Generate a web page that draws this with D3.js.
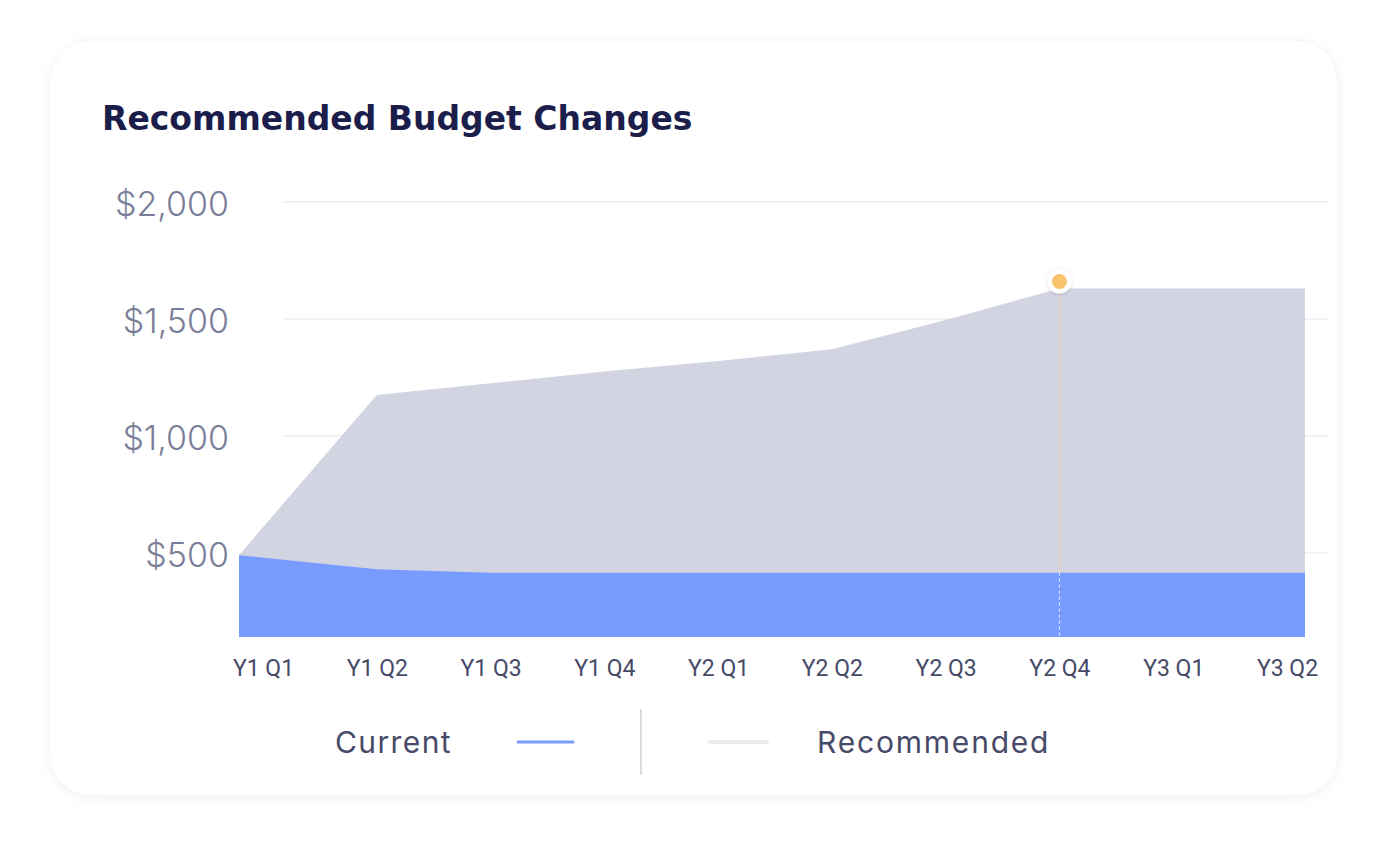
<!DOCTYPE html>
<html>
<head>
<meta charset="utf-8">
<script src="https://cdn.jsdelivr.net/npm/d3@7"></script>
<style>
  html, body { margin: 0; padding: 0; background: #ffffff; }
  svg { display: block; }
</style>
</head>
<body>
<svg id="chart" width="1389" height="856"></svg>
<script>
// ---- data ----
const categories = ["Y1 Q1","Y1 Q2","Y1 Q3","Y1 Q4","Y2 Q1","Y2 Q2","Y2 Q3","Y2 Q4","Y3 Q1","Y3 Q2"];
const currentValues = [490, 430, 415, 415, 415, 415, 415, 415, 415, 415];
const recommendedValues = [490, 1175, 1225, 1275, 1320, 1370, 1495, 1630, 1630, 1630];
const yTickValues = [500, 1000, 1500, 2000];
const yTickLabels = ["$500", "$1,000", "$1,500", "$2,000"];
const highlightCategory = "Y2 Q4";
const title = "Recommended Budget Changes";
const legendLabels = ["Current", "Recommended"];
const yFloor = 140;

// ---- layout ----
const svg = d3.select("#chart");
const plot = { left: 239, right: 1305, top: 202, bottom: 637 };

const defs = svg.append("defs");
const f = defs.append("filter").attr("id", "cardShadow").attr("x", "-10%").attr("y", "-10%").attr("width", "120%").attr("height", "120%");
f.append("feDropShadow").attr("dx", 0).attr("dy", 2).attr("stdDeviation", 6).attr("flood-color", "#1b1d4b").attr("flood-opacity", 0.05);
const f2 = defs.append("filter").attr("id", "dotShadow").attr("x", "-50%").attr("y", "-50%").attr("width", "200%").attr("height", "200%");
f2.append("feDropShadow").attr("dx", 0).attr("dy", 1).attr("stdDeviation", 2).attr("flood-color", "#1b1d4b").attr("flood-opacity", 0.12);

// card
svg.append("rect")
  .attr("x", 50).attr("y", 40).attr("width", 1288).attr("height", 756)
  .attr("rx", 42).attr("ry", 42)
  .attr("fill", "#ffffff")
  .attr("stroke", "#f4f4f7").attr("stroke-width", 1)
  .attr("filter", "url(#cardShadow)");

// title
svg.append("text")
  .attr("x", 102).attr("y", 130)
  .attr("font-family", "'DejaVu Sans', sans-serif")
  .attr("font-weight", 700)
  .attr("font-size", 33)
  .attr("fill", "#1b1d4b")
  .text(title);

// scales
const y = d3.scaleLinear().domain([yFloor, 2000]).range([plot.bottom, plot.top]);
const xLabel = d3.scalePoint().domain(categories).range([263, 1287]);
const xMark = (d, i) => i === 0 ? plot.left : (i === categories.length - 1 ? plot.right : xLabel(categories[i]));

// gridlines
svg.append("g").selectAll("line").data(yTickValues).join("line")
  .attr("x1", 283).attr("x2", 1328)
  .attr("y1", d => y(d)).attr("y2", d => y(d))
  .attr("stroke", "#f1f1f5").attr("stroke-width", 2);

// y-axis labels
const yAxis = d3.axisLeft(y).tickValues(yTickValues).tickFormat((d, i) => yTickLabels[i]).tickSize(0).tickPadding(0);
const gy = svg.append("g").attr("transform", "translate(229,0)").call(yAxis);
gy.select(".domain").remove();
gy.selectAll("text")
  .attr("font-family", "Inter, sans-serif")
  .attr("font-weight", 300)
  .attr("font-size", 34)
  .attr("fill", "#7b7e98")
  .attr("dy", "0.4em");

// areas
const area = d3.area()
  .x((d, i) => xMark(d, i))
  .y0(plot.bottom)
  .y1(d => y(d));
svg.append("path").datum(recommendedValues)
  .attr("d", area)
  .attr("fill", "#d2d4e2");

svg.append("path").datum(currentValues)
  .attr("d", area)
  .attr("fill", "#789bff");

// highlight
const hi = categories.indexOf(highlightCategory);
const hx = xMark(null, hi);
svg.append("line")
  .attr("x1", hx).attr("x2", hx)
  .attr("y1", y(recommendedValues[hi])).attr("y2", y(currentValues[hi]))
  .attr("stroke", "#e8cfae").attr("stroke-width", 1);
svg.append("line")
  .attr("x1", hx).attr("x2", hx)
  .attr("y1", y(currentValues[hi])).attr("y2", plot.bottom)
  .attr("stroke", "#e6ecff").attr("stroke-width", 1)
  .attr("stroke-dasharray", "3,3");
svg.append("circle")
  .attr("cx", hx).attr("cy", y(recommendedValues[hi]) - 7)
  .attr("r", 12).attr("fill", "#ffffff")
  .attr("filter", "url(#dotShadow)");
svg.append("circle")
  .attr("cx", hx).attr("cy", y(recommendedValues[hi]) - 7)
  .attr("r", 7.5).attr("fill", "#f7c46c");

// x-axis labels
const xAxis = d3.axisBottom(xLabel).tickSize(0).tickPadding(0);
const gx = svg.append("g").attr("transform", "translate(0,660)").call(xAxis);
gx.select(".domain").remove();
gx.selectAll("text")
  .attr("font-family", "Roboto, sans-serif")
  .attr("font-size", 23)
  .attr("fill", "#464a66")
  .attr("dy", "0.71em");

// legend
const lg = svg.append("g");
lg.append("text").attr("x", 335).attr("y", 753)
  .attr("font-family", "Inter, sans-serif").attr("font-size", 30)
  .attr("letter-spacing", 1.4)
  .attr("fill", "#474a68").text(legendLabels[0]);
lg.append("line").attr("x1", 518).attr("x2", 573).attr("y1", 742).attr("y2", 742)
  .attr("stroke", "#789bff").attr("stroke-width", 3).attr("stroke-linecap", "round");
lg.append("line").attr("x1", 641).attr("x2", 641).attr("y1", 709).attr("y2", 775)
  .attr("stroke", "#cfd0d8").attr("stroke-width", 1.5);
lg.append("line").attr("x1", 710).attr("x2", 767).attr("y1", 742).attr("y2", 742)
  .attr("stroke", "#ebebee").attr("stroke-width", 4).attr("stroke-linecap", "round");
lg.append("text").attr("x", 817).attr("y", 753)
  .attr("font-family", "Inter, sans-serif").attr("font-size", 30)
  .attr("letter-spacing", 1.8)
  .attr("fill", "#474a68").text(legendLabels[1]);
</script>
</body>
</html>
